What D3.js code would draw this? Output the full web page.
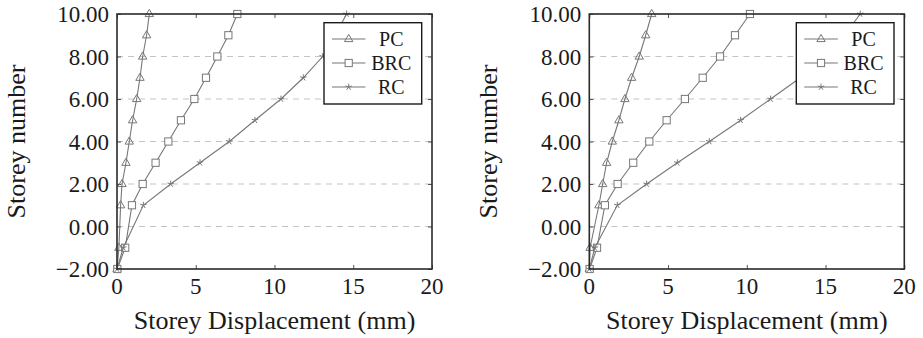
<!DOCTYPE html>
<html>
<head>
<meta charset="utf-8">
<script src="https://cdn.jsdelivr.net/npm/d3@7"></script>
<style>
  html, body { margin: 0; padding: 0; background: #fff; }
  svg { display: block; }
</style>
</head>
<body>
<svg id="chart" width="923" height="338"></svg>
<script>
// ---- data ----
const storeys = [-2, -1, 1, 2, 3, 4, 5, 6, 7, 8, 9, 10];
const seriesNames = ["PC", "BRC", "RC"];
const pcLeft  = [0, 0.12, 0.23, 0.32, 0.57, 0.78, 0.99, 1.25, 1.46, 1.63, 1.88, 2.05];
const brcLeft = [0.02, 0.52, 0.95, 1.63, 2.45, 3.26, 4.06, 4.91, 5.65, 6.37, 7.07, 7.64];
const rcLeft  = [0, 0.4, 1.67, 3.41, 5.27, 7.13, 8.76, 10.41, 11.83, 13.06, 13.85, 14.58];
const pcRight  = [0, 0.05, 0.61, 0.85, 1.10, 1.46, 1.88, 2.26, 2.69, 3.17, 3.58, 3.96];
const brcRight = [0.02, 0.49, 0.99, 1.80, 2.79, 3.81, 4.91, 6.07, 7.20, 8.30, 9.25, 10.2];
const rcRight  = [0, 0.35, 1.78, 3.64, 5.59, 7.62, 9.61, 11.51, 13.4, 14.9, 16.2, 17.2];
const xTicks = [0, 5, 10, 15, 20];
const yTicks = [-2, 0, 2, 4, 6, 8, 10];
const gridTicks = [0, 2, 4, 6, 8];
const xLabel = "Storey Displacement (mm)";
const yLabel = "Storey number";

(function () {
const FONT = '"Liberation Serif"';
const BASE = 20;
const panels = [
  { left: 117, series: [pcLeft, brcLeft, rcLeft] },
  { left: 589.3, series: [pcRight, brcRight, rcRight] }
];

const svg = d3.select("#chart");
const lineColor = "#777";
const plotTop = 14, plotBottom = 269, plotW = 315;

const markers = {
  PC: (g, x, y) => g.append("path")
      .attr("d", `M${x},${y-4.6}L${x+4.2},${y+2.6}L${x-4.2},${y+2.6}Z`)
      .attr("fill", "none").attr("stroke", lineColor).attr("stroke-width", 1),
  BRC: (g, x, y) => g.append("rect")
      .attr("x", x-3.6).attr("y", y-3.6).attr("width", 7.2).attr("height", 7.2)
      .attr("fill", "#fff").attr("stroke", lineColor).attr("stroke-width", 1),
  RC: (g, x, y) => {
    let d = "";
    for (let i = 0; i < 5; i++) {
      const a = -Math.PI/2 + i*2*Math.PI/5;
      d += `M${x},${y}L${x+3.4*Math.cos(a)},${y+3.4*Math.sin(a)}`;
    }
    g.append("path").attr("d", d).attr("stroke", lineColor).attr("stroke-width", 1).attr("fill", "none");
  }
};

// text drawn at a base size and scaled, positioned by transform
function txt(g, x, y, size, anchor, str, rot) {
  const k = size / BASE;
  return g.append("text")
    .style("font-family", FONT)
    .style("font-size", BASE + "px")
    .attr("fill", "#1a1a1a")
    .attr("text-anchor", anchor)
    .attr("transform", `translate(${x},${y})${rot ? " rotate(" + rot + ")" : ""} scale(${k})`)
    .text(str);
}

panels.forEach(p => {
  const x = d3.scaleLinear().domain([0, 20]).range([p.left, p.left + plotW]);
  const y = d3.scaleLinear().domain([-2, 10]).range([plotBottom, plotTop]);
  const g = svg.append("g");

  // grid
  g.selectAll(".grid").data(gridTicks).enter().append("line")
    .attr("x1", x(0)).attr("x2", x(20))
    .attr("y1", d => y(d)).attr("y2", d => y(d))
    .attr("stroke", "#c4c4c4").attr("stroke-width", 1.1)
    .attr("stroke-dasharray", "6,5");

  // axes with inner ticks
  const axB = d3.axisBottom(x).tickValues(xTicks).tickSize(-4).tickFormat("");
  const axT = d3.axisTop(x).tickValues(xTicks).tickSize(-4).tickFormat("");
  const axL = d3.axisLeft(y).tickValues(yTicks).tickSize(-4).tickFormat("");
  const axR = d3.axisRight(y).tickValues(yTicks).tickSize(-4).tickFormat("");
  [[axB, `translate(0,${plotBottom})`], [axT, `translate(0,${plotTop})`],
   [axL, `translate(${x(0)},0)`], [axR, `translate(${x(20)},0)`]].forEach(([ax, tr]) => {
    const a = g.append("g").attr("transform", tr).call(ax);
    a.select(".domain").remove();
    a.selectAll("line").attr("stroke", "#555").attr("stroke-width", 1);
  });

  // tick labels
  xTicks.forEach(d => txt(g, x(d), plotBottom + 25, 23, "middle", String(d)));
  yTicks.forEach(d => txt(g, x(0) - 8, y(d) + 8, 23, "end",
      (d < 0 ? "\u2212" : "") + Math.abs(d).toFixed(2)));

  // series lines + markers
  const line = d3.line().x(d => x(d[0])).y(d => y(d[1]));
  const sg = g.append("g");
  p.series.forEach((vals, si) => {
    const pts = vals.map((v, i) => [v, storeys[i]]);
    sg.append("path").datum(pts).attr("d", line)
      .attr("fill", "none").attr("stroke", lineColor).attr("stroke-width", 1.1);
    pts.forEach(pt => markers[seriesNames[si]](sg, x(pt[0]), y(pt[1])));
  });

  // frame
  g.append("rect").attr("x", x(0)).attr("y", plotTop)
    .attr("width", plotW).attr("height", plotBottom - plotTop)
    .attr("fill", "none").attr("stroke", "#2a2a2a").attr("stroke-width", 1.6);

  // legend
  const lx = p.left + 207, ly = 22.7, lw = 97.7, lh = 81.3;
  const lg = g.append("g");
  lg.append("rect").attr("x", lx).attr("y", ly).attr("width", lw).attr("height", lh)
    .attr("fill", "#fff").attr("stroke", "#1a1a1a").attr("stroke-width", 1.4);
  seriesNames.forEach((nm, i) => {
    const cy = 39 + i * 24;
    lg.append("line").attr("x1", lx + 8).attr("x2", lx + 41.5).attr("y1", cy).attr("y2", cy)
      .attr("stroke", lineColor).attr("stroke-width", 1.1);
    markers[nm](lg, lx + 24.7, cy);
    txt(lg, lx + 67.3, cy + 7, 20, "middle", nm);
  });

  // axis labels
  txt(g, x(10), 329, 26, "middle", xLabel);
  txt(g, p.left - 92, y(4), 26, "middle", yLabel, -90);
});
})();
</script>
</body>
</html>
